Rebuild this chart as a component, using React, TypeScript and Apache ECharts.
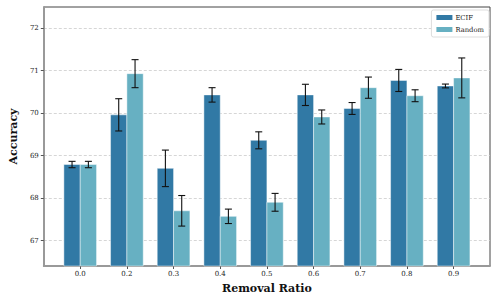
import React, { useEffect, useRef } from "react";
import * as echarts from "echarts";

const categories = ["0.0", "0.2", "0.3", "0.4", "0.5", "0.6", "0.7", "0.8", "0.9"];
const ecifValues = [68.79, 69.96, 68.7, 70.43, 69.36, 70.43, 70.11, 70.77, 70.64];
const ecifErrors = [0.075, 0.38, 0.43, 0.17, 0.2, 0.25, 0.14, 0.26, 0.045];
const randomValues = [68.79, 70.93, 67.7, 67.57, 67.9, 69.91, 70.6, 70.41, 70.83];
const randomErrors = [0.075, 0.33, 0.36, 0.17, 0.21, 0.165, 0.25, 0.14, 0.47];
const yTicks = [67, 68, 69, 70, 71, 72];
const seriesNames = ["ECIF", "Random"];
const colors = ["#3179a5", "#67b0c2"];

const Y_MIN = 66.4;
const Y_MAX = 72.5;
const BAR_W = 0.35;

export default function App() {
  const ref = useRef<HTMLDivElement>(null);
  useEffect(() => {
    document.body.style.margin = "0";
    if (!ref.current) return;
    const chart = echarts.init(ref.current, undefined, { renderer: "svg" });
    const makeSeries = (idx: number, vals: number[], errs: number[]) => ({
      name: seriesNames[idx],
      type: "custom",
      itemStyle: { color: colors[idx] },
      data: vals.map((v, i) => [i, v, errs[i]]),
      encode: { x: 0, y: 1 },
      renderItem: (params: any, api: any) => {
        const i = api.value(0);
        const v = api.value(1);
        const e = api.value(2);
        const off = idx === 0 ? -BAR_W / 2 : BAR_W / 2;
        const cx = i + off;
        const top = api.coord([cx, v]);
        const bottom = api.coord([cx, Y_MIN]);
        const w = api.size([BAR_W, 0])[0];
        const eHi = api.coord([cx, v + e]);
        const eLo = api.coord([cx, v - e]);
        const cap = 3.5;
        const lineStyle = { stroke: "#111", lineWidth: 1.1 };
        return {
          type: "group",
          children: [
            {
              type: "rect",
              shape: { x: top[0] - w / 2, y: top[1], width: w, height: bottom[1] - top[1] },
              style: { fill: colors[idx], stroke: "rgba(255,255,255,0.45)", lineWidth: 1 },
            },
            { type: "line", shape: { x1: top[0], y1: eHi[1], x2: top[0], y2: eLo[1] }, style: lineStyle },
            { type: "line", shape: { x1: top[0] - cap, y1: eHi[1], x2: top[0] + cap, y2: eHi[1] }, style: lineStyle },
            { type: "line", shape: { x1: top[0] - cap, y1: eLo[1], x2: top[0] + cap, y2: eLo[1] }, style: lineStyle },
          ],
        };
      },
    });
    const tickIdx = categories.map((_, i) => i);
    chart.setOption({
      animation: false,
      grid: {
        left: 35,
        right: 8,
        top: 7,
        bottom: 33,
        show: true,
        borderColor: "#444",
        borderWidth: 1,
        backgroundColor: "#fff",
      },
      legend: {
        right: 9,
        top: 10,
        orient: "vertical",
        icon: "rect",
        itemWidth: 16,
        itemHeight: 5,
        itemGap: 5,
        padding: [4, 5, 4, 5],
        backgroundColor: "#fff",
        borderColor: "#ddd",
        borderWidth: 1,
        borderRadius: 2,
        textStyle: { fontFamily: "DejaVu Serif", fontSize: 6.8, color: "#222", padding: [0, 0, 0, -2] },
        data: seriesNames,
      },
      xAxis: {
        type: "value",
        min: -0.78,
        max: 8.78,
        name: "Removal Ratio",
        nameLocation: "middle",
        nameGap: 17,
        nameTextStyle: { fontFamily: "DejaVu Serif", fontWeight: "bold", fontSize: 11, color: "#111" },
        axisLine: { show: true, onZero: false, lineStyle: { color: "#999", width: 2 } },
        axisTick: { show: true, customValues: tickIdx, length: 3, lineStyle: { color: "#555" } },
        axisLabel: {
          customValues: tickIdx,
          formatter: (v: number) => categories[Math.round(v)] ?? "",
          fontFamily: "DejaVu Serif",
          fontSize: 7,
          color: "#222",
          margin: 4,
        },
        splitLine: { show: false },
      },
      yAxis: {
        type: "value",
        min: Y_MIN,
        max: Y_MAX,
        name: "Accuracy",
        nameLocation: "middle",
        nameGap: 22,
        nameTextStyle: { fontFamily: "DejaVu Serif", fontWeight: "bold", fontSize: 11, color: "#111" },
        axisLine: { show: true, onZero: false, lineStyle: { color: "#999", width: 2 } },
        axisTick: { show: true, customValues: yTicks, length: 3, lineStyle: { color: "#555" } },
        axisLabel: {
          customValues: yTicks,
          fontFamily: "DejaVu Serif",
          fontSize: 7,
          color: "#222",
          margin: 5,
        },
        splitLine: {
          show: true,
          lineStyle: { color: "#ccc", type: [3, 2], width: 0.8 },
        },
      },
      series: [makeSeries(0, ecifValues, ecifErrors), makeSeries(1, randomValues, randomErrors)],
    });
    return () => chart.dispose();
  }, []);
  return <div ref={ref} style={{ width: 498, height: 299 }} />;
}
